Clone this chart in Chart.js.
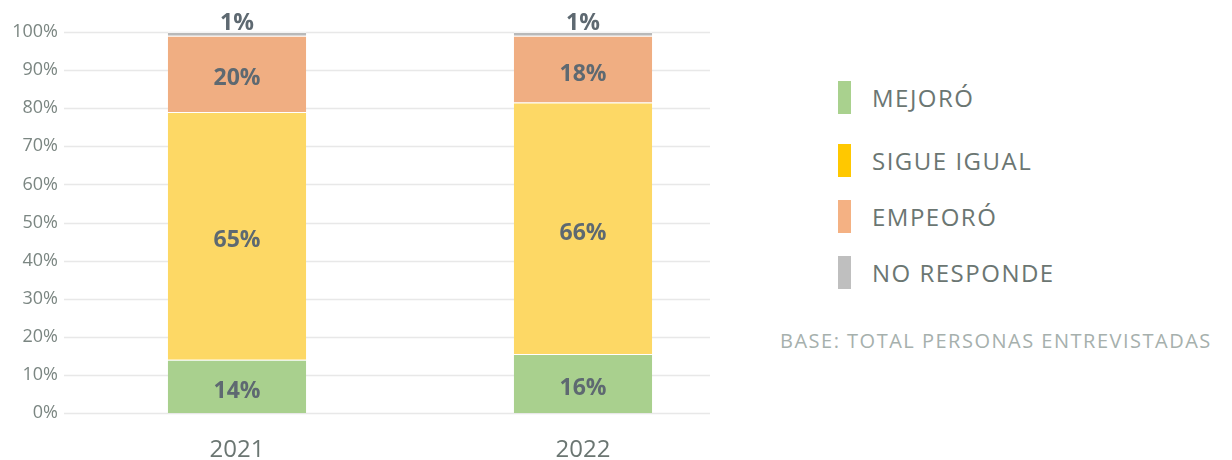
<!DOCTYPE html>
<html>
<head>
<meta charset="utf-8">
<script src="https://cdn.jsdelivr.net/npm/chart.js@4"></script>
<style>
  body { margin: 0; background: #fff; font-family: 'Open Sans', sans-serif; }
  #wrap { position: relative; width: 1232px; height: 460px; overflow: hidden; }
  #chartBox { position: absolute; left: 0; top: 0; width: 756px; height: 460px; }
  #legend { position: absolute; left: 838px; top: 0; }
  .item { position: absolute; left: 0; white-space: nowrap; }
  .swatch { position: absolute; left: 0; width: 13px; height: 33px; }
  .label { position: absolute; left: 34px; top: 0; font-size: 24px; letter-spacing: 1.5px; color: #6b7672; line-height: 33px; }
  #base { position: absolute; left: 780px; top: 327px; font-size: 20px; letter-spacing: 1.5px; color: #a6b0ad; white-space: nowrap; line-height: 28px; }
</style>
</head>
<body>
<div id="wrap">
  <div id="chartBox"><canvas id="chart"></canvas></div>
  <div id="legend"></div>
  <div id="base">BASE: TOTAL PERSONAS ENTREVISTADAS</div>
</div>
<script>
// Data
const years = ['2021', '2022'];
const seriesNames = ['MEJORÓ', 'SIGUE IGUAL', 'EMPEORÓ', 'NO RESPONDE'];
const mejoro = [14, 15.5];
const sigueIgual = [65, 66];
const empeoro = [20, 17.5];
const noResponde = [1, 1];
const yTicks = [0, 10, 20, 30, 40, 50, 60, 70, 80, 90, 100];

const barColors = ['#a9d08e', '#fdd865', '#f0ae82', '#b9b9b9'];
const legendColors = ['#a9d18e', '#ffc800', '#f4b183', '#bfbfbf'];
const legendTops = [81, 144, 200, 256];

// legend on the right
const legendEl = document.getElementById('legend');
seriesNames.forEach(function(name, i) {
  const item = document.createElement('div');
  item.className = 'item';
  item.style.top = legendTops[i] + 'px';
  item.innerHTML = '<div class="swatch" style="background:' + legendColors[i] + '"></div>' +
    '<div class="label">' + name + '</div>';
  legendEl.appendChild(item);
});

// horizontal gridlines, stopping a bit short of the right edge like the original
const gridLines = {
  id: 'gridLines',
  beforeDatasetsDraw: function(chart) {
    const ctx = chart.ctx;
    const area = chart.chartArea;
    const y = chart.scales.y;
    ctx.save();
    ctx.strokeStyle = '#e8e8e8';
    ctx.lineWidth = 1.5;
    yTicks.forEach(function(v) {
      const py = Math.round(y.getPixelForValue(v)) + 0.5;
      ctx.beginPath();
      ctx.moveTo(area.left, py);
      ctx.lineTo(area.right - 46, py);
      ctx.stroke();
    });
    ctx.restore();
  }
};

// draw value labels inside the segments (last one above the bar)
const valueLabels = {
  id: 'valueLabels',
  afterDatasetsDraw: function(chart) {
    const ctx = chart.ctx;
    ctx.save();
    ctx.font = 'bold 23px "Open Sans"';
    ctx.fillStyle = '#5e6971';
    ctx.textAlign = 'center';
    ctx.textBaseline = 'middle';
    chart.data.datasets.forEach(function(ds, di) {
      const meta = chart.getDatasetMeta(di);
      meta.data.forEach(function(bar, i) {
        const txt = Math.round(ds.data[i]) + '%';
        let y;
        if (di === chart.data.datasets.length - 1) {
          y = bar.y - 9;
        } else {
          y = (bar.y + bar.base) / 2 + 5;
        }
        ctx.fillText(txt, bar.x, y);
      });
    });
    ctx.restore();
  }
};

const ctx = document.getElementById('chart');
new Chart(ctx, {
  type: 'bar',
  data: {
    labels: years,
    datasets: [
      { label: seriesNames[0], data: mejoro, backgroundColor: barColors[0] },
      { label: seriesNames[1], data: sigueIgual, backgroundColor: barColors[1] },
      { label: seriesNames[2], data: empeoro, backgroundColor: barColors[2] },
      { label: seriesNames[3], data: noResponde, backgroundColor: barColors[3] }
    ]
  },
  options: {
    responsive: true,
    maintainAspectRatio: false,
    animation: false,
    layout: { padding: { top: 32, bottom: 0, left: 0, right: 0 } },
    datasets: {
      bar: {
        barPercentage: 0.4,
        categoryPercentage: 1,
        borderWidth: { top: 1, bottom: 0, left: 0, right: 0 },
        borderColor: 'rgba(255,255,255,0.5)'
      }
    },
    plugins: {
      legend: { display: false },
      tooltip: { enabled: false }
    },
    scales: {
      x: {
        stacked: true,
        afterFit: function(scale) { scale.height = 47; },
        grid: { display: false, drawTicks: false },
        border: { display: false },
        ticks: {
          color: '#6b7672',
          font: { family: 'Open Sans', size: 24 },
          padding: 23
        }
      },
      y: {
        stacked: true,
        min: 0,
        max: 100,
        afterFit: function(scale) { scale.width = 64; },
        afterBuildTicks: function(scale) {
          scale.ticks = yTicks.map(function(v) { return { value: v }; });
        },
        grid: { display: false, drawTicks: false },
        border: { display: false },
        ticks: {
          color: '#7b8682',
          font: { family: 'Open Sans', size: 18 },
          padding: 6,
          callback: function(value) { return value + '%'; }
        }
      }
    }
  },
  plugins: [gridLines, valueLabels]
});
</script>
</body>
</html>
